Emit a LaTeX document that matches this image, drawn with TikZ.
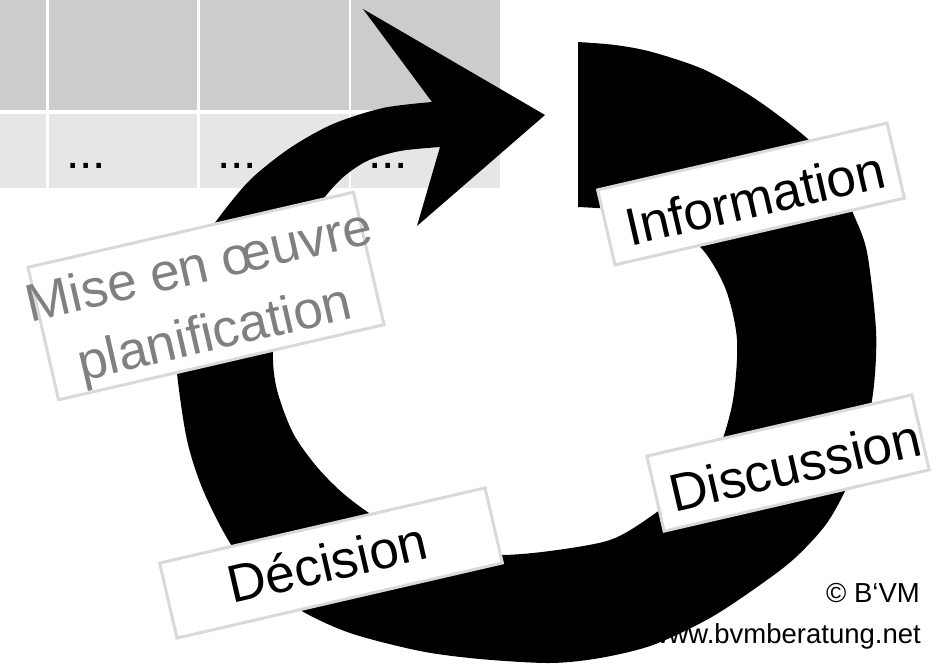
\documentclass[tikz,border=0pt]{standalone}
\usepackage{fontspec}
\setmainfont{Liberation Sans}
\definecolor{topgray}{HTML}{CCCCCC}
\definecolor{botgray}{HTML}{E6E6E6}
\definecolor{boxgray}{HTML}{D9D9D9}
\definecolor{midgray}{HTML}{808080}
\begin{document}
\begin{tikzpicture}[x=1pt,y=-1pt,
  toprow/.style={fill=topgray},
  botrow/.style={fill=botgray},
  dotstxt/.style={inner sep=0pt, anchor=base west, font=\fontsize{48}{56}\selectfont, text=black},
  lblbox/.style={draw=boxgray, line width=3pt, fill=white, rotate=13, inner sep=0pt},
  lbltxt/.style={rotate=13, inner sep=0pt, anchor=base, font=\fontsize{53}{60}\selectfont, text=black},
  copytxt/.style={inner sep=0pt, anchor=base east, font=\fontsize{27.5}{33}\selectfont, text=black},
  ring/.style={fill=black}
]
\useasboundingbox (0,0) rectangle (948,666);
% table
\fill[toprow] (0,0) rectangle (46,110);
\fill[toprow] (49,0) rectangle (197,110);
\fill[toprow] (200,0) rectangle (349,110);
\fill[toprow] (351,0) rectangle (500,110);
\fill[botrow] (0,114) rectangle (46,188);
\fill[botrow] (49,114) rectangle (197,188);
\fill[botrow] (200,114) rectangle (349,188);
\fill[botrow] (351,114) rectangle (500,188);
\node[dotstxt] (d1) at (66,168) {...};
\node[dotstxt] (d2) at (217,168) {...};
\node[dotstxt] (d3) at (368,168) {...};
% circular arrow
\fill[ring] plot[smooth] coordinates {
 (578,42) (615,45) (652,52) (705,70) (757,100) (810,141) (838,178) (853,213) (867,252)
 (876,330) (874,385) (866,430) (850,480) (827,523) (795,558) (760,585) (710,618)
 (653,645) (600,658) (550,663) (480,659) (420,651) (350,633) (300,610) (260,580)
 (230,543) (203,490) (187,440) (177,373) (176,330) (182,290) (196,253) (217,220)
 (250,180) (290,148) (333,124) (383,108) (432,102)}
 -- (363,9) -- (545,115) -- (417,226)
 -- plot[smooth] coordinates {
 (440,147) (400,151) (367,161) (340,180) (314,212) (294,255) (280,303) (273,353)
 (277,390) (293,433) (317,467) (345,495) (380,520) (420,538) (460,550) (500,555)
 (550,551) (610,540) (650,517) (690,485) (718,450) (733,400) (737,340) (726,290)
 (703,250) (670,226) (625,211) (578,207)}
 -- cycle;
% label boxes
\node[lblbox, minimum width=334pt, minimum height=136pt] (mise) at (206,296) {};
\node[lblbox, minimum width=297pt, minimum height=77pt] (info) at (751,194) {};
\node[lblbox, minimum width=272pt, minimum height=77pt] (disc) at (788,463) {};
\node[lblbox, minimum width=334pt, minimum height=77pt] (deci) at (331,563) {};
% label texts
\node[lbltxt, text=midgray] (mise1) at (202.9,282.4) {Mise en œuvre};
\node[lbltxt, text=midgray] (mise2) at (218.4,349.6) {planification};
\node[lbltxt] (infot) at (759.2,216.2) {Information};
\node[lbltxt] (disct) at (799.2,483.2) {Discussion};
\node[lbltxt] (decit) at (331.6,581.1) {Décision};
% copyright
\node[copytxt] (c1) at (920,602) {© B‘VM};
\node[copytxt] (c2) at (921,643) {www.bvmberatung.net};
\end{tikzpicture}
\end{document}
